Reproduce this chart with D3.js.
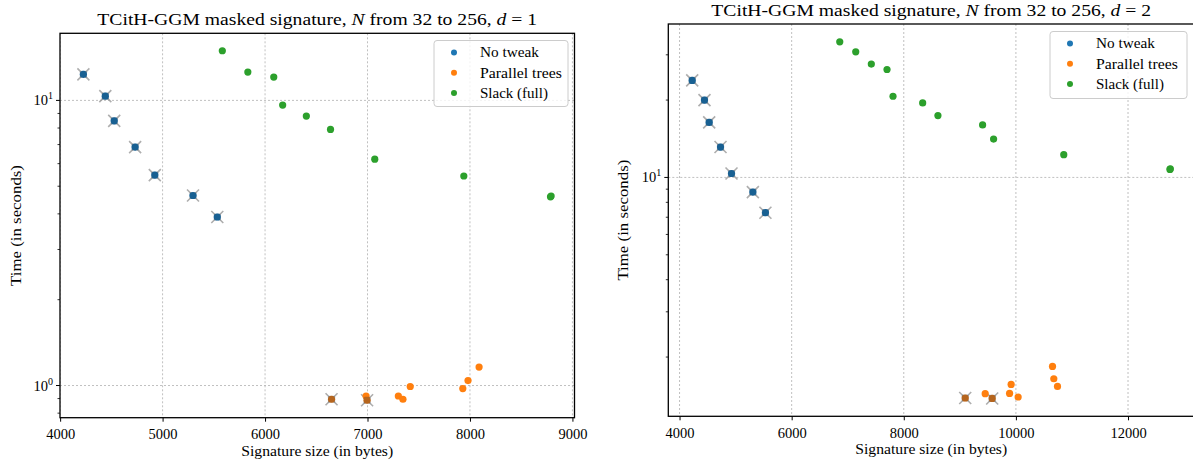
<!DOCTYPE html>
<html>
<head>
<meta charset="utf-8">
<script src="https://cdn.jsdelivr.net/npm/d3@7"></script>
<style>
  html, body { margin: 0; padding: 0; background: #fff; }
  svg { display: block; }
  text { font-family: "Liberation Serif", "DejaVu Serif", serif; fill: #000; }
</style>
</head>
<body>
<svg id="chart" width="1193" height="466"></svg>
<script>
// Signature sizes (bytes) and timings (seconds) for the three parameter strategies.
const seriesNames = ["No tweak", "Parallel trees", "Slack (full)"];
const seriesColors = ["#1f77b4", "#ff7f0e", "#2ca02c"];

// d = 1
const noTweakSizeD1 = [4227, 4441, 4528, 4732, 4924, 5297, 5534];
const noTweakTimeD1 = [12.34, 10.35, 8.48, 6.86, 5.47, 4.64, 3.90];
const noTweakMarkD1 = [1, 1, 1, 1, 1, 1, 1];
const parallelSizeD1 = [6649, 6986, 6996, 7301, 7346, 7417, 7930, 7981, 8089];
const parallelTimeD1 = [0.895, 0.919, 0.888, 0.919, 0.895, 0.992, 0.976, 1.041, 1.161];
const parallelMarkD1 = [1, 0, 1, 0, 0, 0, 0, 0, 0];
const slackSizeD1 = [5583, 5832, 6085, 6172, 6403, 6639, 7071, 7940, 8786, 8792];
const slackTimeD1 = [14.93, 12.57, 12.07, 9.63, 8.81, 7.91, 6.22, 5.43, 4.59, 4.62];
const slackMarkD1 = [0, 0, 0, 0, 0, 0, 0, 0, 0, 0];

// d = 2
const noTweakSizeD2 = [4226, 4445, 4529, 4731, 4927, 5308, 5532];
const noTweakTimeD2 = [23.85, 20.0, 16.37, 13.13, 10.36, 8.77, 7.29];
const noTweakMarkD2 = [1, 1, 1, 1, 1, 1, 1];
const parallelSizeD2 = [9096, 9452, 9577, 9887, 9915, 10040, 10653, 10676, 10742];
const parallelTimeD2 = [1.386, 1.440, 1.380, 1.444, 1.565, 1.398, 1.839, 1.647, 1.537];
const parallelMarkD2 = [1, 0, 1, 0, 0, 0, 0, 0, 0];
const slackSizeD2 = [6858, 7143, 7421, 7701, 7808, 8337, 8609, 9406, 9602, 10854, 12748, 12754];
const slackTimeD2 = [33.7, 30.8, 27.6, 26.3, 20.7, 19.5, 17.4, 16.0, 14.1, 12.26, 10.74, 10.80];
const slackMarkD2 = [0, 0, 0, 0, 0, 0, 0, 0, 0, 0, 0, 0];

const xTicksD1 = [4000, 5000, 6000, 7000, 8000, 9000];
const xTicksD2 = [4000, 6000, 8000, 10000, 12000];

const xLabel = "Signature size (in bytes)";
const yLabel = "Time (in seconds)";

const svg = d3.select("#chart");

function zipSeries(sizes, times, marks) {
  return sizes.map((s, i) => ({ size: s, time: times[i], mark: marks[i] }));
}

// Widen a text element horizontally about its anchor so it spans `width` pixels.
function stretch(sel, width, ax) {
  const w = sel.node().getComputedTextLength();
  const s = width / w;
  sel.attr("transform", `translate(${ax},0) scale(${s},1) translate(${-ax},0)`);
}

function drawPanel(opts) {
  const { left, right, top, bottom, series, xTicks, dValue } = opts;
  const g = svg.append("g");

  const all = series.flat();
  // autoscale with 5% margins (linear in x, logarithmic in y)
  const [xmin, xmax] = d3.extent(all, d => d.size);
  const xm = (xmax - xmin) * 0.05;
  const [lmin, lmax] = d3.extent(all, d => Math.log10(d.time));
  const lm = (lmax - lmin) * 0.05;

  const x = d3.scaleLinear().domain([xmin - xm, xmax + xm]).range([left, right]);
  const y = d3.scaleLog().domain([Math.pow(10, lmin - lm), Math.pow(10, lmax + lm)]).range([bottom, top]);

  const clipId = "clip" + dValue;
  svg.append("clipPath").attr("id", clipId)
    .append("rect").attr("x", left).attr("y", top)
    .attr("width", right - left).attr("height", bottom - top);

  const plot = g.append("g").attr("clip-path", `url(#${clipId})`);

  // grid lines
  const [yLo, yHi] = y.domain();
  const decades = d3.range(Math.floor(Math.log10(yLo)), Math.ceil(Math.log10(yHi)) + 1)
    .map(e => Math.pow(10, e)).filter(v => v >= yLo && v <= yHi);
  plot.selectAll(".gx").data(xTicks).join("line")
    .attr("x1", d => x(d)).attr("x2", d => x(d))
    .attr("y1", top).attr("y2", bottom)
    .attr("stroke", "#b0b0b0").attr("stroke-width", 0.8).attr("stroke-dasharray", "2,2");
  plot.selectAll(".gy").data(decades).join("line")
    .attr("x1", left).attr("x2", right)
    .attr("y1", d => y(d)).attr("y2", d => y(d))
    .attr("stroke", "#b0b0b0").attr("stroke-width", 0.8).attr("stroke-dasharray", "2,2");

  const marked = all.filter(d => d.mark);
  // grey crosses behind highlighted points
  plot.selectAll(".mkx").data(marked).join("path")
    .attr("transform", d => `translate(${x(d.size)},${y(d.time)})`)
    .attr("d", "M-6,-6L6,6M-6,6L6,-6")
    .attr("stroke", "#9a9a9a").attr("stroke-width", 1.6).attr("opacity", 0.8).attr("fill", "none");

  // points
  series.forEach((pts, si) => {
    plot.selectAll(null).data(pts).join("circle")
      .attr("cx", d => x(d.size)).attr("cy", d => y(d.time))
      .attr("r", 3.6).attr("fill", seriesColors[si]);
  });
  // darkened core of highlighted points
  plot.selectAll(".mkc").data(marked).join("rect")
    .attr("x", d => x(d.size) - 3.6).attr("y", d => y(d.time) - 3.6)
    .attr("width", 7.2).attr("height", 7.2).attr("rx", 1.5)
    .attr("fill", "#0a2a45").attr("opacity", 0.3);

  // axes
  const xAxis = d3.axisBottom(x).tickValues(xTicks).tickSize(4).tickPadding(4).tickFormat(d3.format("d"));
  const gx = g.append("g").attr("transform", `translate(0,${bottom})`).call(xAxis);
  gx.select(".domain").remove();
  gx.selectAll("line").attr("stroke", "#000").attr("stroke-width", 1);
  gx.selectAll("text").attr("font-size", 14.5).attr("font-family", "Liberation Serif, serif").attr("dy", "0.95em");

  const minorVals = [];
  for (let e = Math.floor(Math.log10(yLo)); e <= Math.ceil(Math.log10(yHi)); e++) {
    for (let m = 2; m <= 9; m++) {
      const v = m * Math.pow(10, e);
      if (v >= yLo && v <= yHi) minorVals.push(v);
    }
  }
  const gy = g.append("g");
  gy.selectAll(".minor").data(minorVals).join("line")
    .attr("x1", left - 2.5).attr("x2", left).attr("y1", d => y(d)).attr("y2", d => y(d))
    .attr("stroke", "#000").attr("stroke-width", 0.8);
  gy.selectAll(".major").data(decades).join("line")
    .attr("x1", left - 4).attr("x2", left).attr("y1", d => y(d)).attr("y2", d => y(d))
    .attr("stroke", "#000").attr("stroke-width", 1);
  const lbl = gy.selectAll(".ylbl").data(decades).join("text")
    .attr("x", left - 7).attr("y", d => y(d) + 5)
    .attr("text-anchor", "end").attr("font-size", 14.5);
  lbl.append("tspan").text("10");
  lbl.append("tspan").attr("dy", -6).attr("font-size", 10).text(d => Math.round(Math.log10(d)));

  // frame
  g.append("rect").attr("x", left).attr("y", top).attr("width", right - left).attr("height", bottom - top)
    .attr("fill", "none").attr("stroke", "#000").attr("stroke-width", 1.3);

  // title
  const cx = (left + right) / 2;
  const t = g.append("text").attr("x", cx).attr("y", top - 8)
    .attr("text-anchor", "middle").attr("font-size", 17.5);
  t.append("tspan").text("TCitH-GGM masked signature, ");
  t.append("tspan").attr("font-style", "italic").text("N");
  t.append("tspan").text(" from 32 to 256, ");
  t.append("tspan").attr("font-style", "italic").text("d");
  t.append("tspan").text(" = " + dValue);
  stretch(t, 440, cx);

  // axis labels
  const xl = g.append("text").attr("x", cx).attr("y", bottom + 38)
    .attr("text-anchor", "middle").attr("font-size", 14.5).text(xLabel);
  stretch(xl, 152, cx);
  const ylg = g.append("g").attr("transform", `translate(${opts.ylabelX},${(top + bottom) / 2}) rotate(-90)`);
  const yl = ylg.append("text").attr("x", 0).attr("y", 0)
    .attr("text-anchor", "middle").attr("font-size", 14.5).text(yLabel);
  stretch(yl, 121, 0);

  // legend
  const L = opts.legend;
  const lg = g.append("g");
  lg.append("rect").attr("x", L.x).attr("y", L.y).attr("width", L.w).attr("height", L.h)
    .attr("rx", 3).attr("fill", "#fff").attr("fill-opacity", 0.8)
    .attr("stroke", "#cccccc").attr("stroke-width", 1);
  const legendWidths = [59, 82, 68];
  seriesNames.forEach((name, i) => {
    const cy = L.y + 12 + i * 20.2;
    lg.append("circle").attr("cx", L.x + 20).attr("cy", cy).attr("r", 3).attr("fill", seriesColors[i]);
    const tx = lg.append("text").attr("x", L.x + 46).attr("y", cy + 5).attr("font-size", 14.5).text(name);
    stretch(tx, legendWidths[i], L.x + 46);
  });
}

drawPanel({
  left: 60, right: 574.5, top: 33.3, bottom: 417.7,
  series: [zipSeries(noTweakSizeD1, noTweakTimeD1, noTweakMarkD1),
           zipSeries(parallelSizeD1, parallelTimeD1, parallelMarkD1),
           zipSeries(slackSizeD1, slackTimeD1, slackMarkD1)],
  xTicks: xTicksD1, dValue: 1, ylabelX: 21,
  legend: { x: 434, y: 40.5, w: 134, h: 66 }
});

drawPanel({
  left: 668.3, right: 1194.2, top: 24, bottom: 416.3,
  series: [zipSeries(noTweakSizeD2, noTweakTimeD2, noTweakMarkD2),
           zipSeries(parallelSizeD2, parallelTimeD2, parallelMarkD2),
           zipSeries(slackSizeD2, slackTimeD2, slackMarkD2)],
  xTicks: xTicksD2, dValue: 2, ylabelX: 628,
  legend: { x: 1050, y: 31.5, w: 137, h: 67 }
});
</script>
</body>
</html>
